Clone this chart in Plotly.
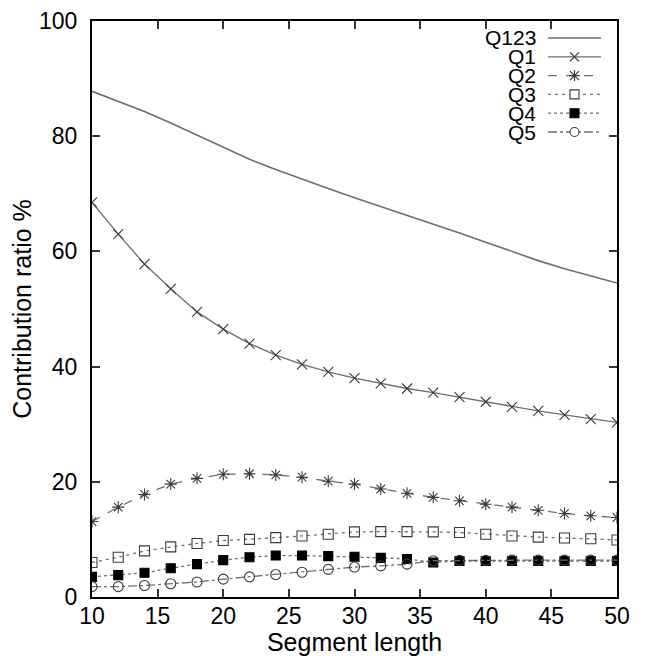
import plotly.graph_objects as go

# segment lengths
seg_len = [10, 12, 14, 16, 18, 20, 22, 24, 26, 28, 30,
           32, 34, 36, 38, 40, 42, 44, 46, 48, 50]

q123 = [87.8, 86.1, 84.3, 82.3, 80.2, 78.1, 76.0, 74.2, 72.5, 70.9, 69.3,
        67.8, 66.2, 64.7, 63.2, 61.6, 60.0, 58.4, 57.0, 55.7, 54.5]
q1 = [68.5, 63.0, 57.8, 53.5, 49.5, 46.5, 44.0, 42.0, 40.4, 39.1, 38.0,
      37.1, 36.2, 35.5, 34.7, 33.9, 33.0, 32.3, 31.6, 30.9, 30.3]
q2 = [13.1, 15.6, 17.8, 19.6, 20.6, 21.3, 21.4, 21.2, 20.8, 20.1, 19.6,
      18.75, 18.0, 17.3, 16.7, 16.1, 15.6, 15.05, 14.5, 14.1, 13.8]
q3 = [6.0, 6.9, 8.0, 8.7, 9.3, 9.8, 10.0, 10.3, 10.6, 10.9, 11.3,
      11.35, 11.35, 11.3, 11.2, 10.9, 10.6, 10.4, 10.25, 10.1, 9.9]
q4 = [3.5, 3.8, 4.2, 5.0, 5.7, 6.4, 6.9, 7.2, 7.2, 7.1, 7.0,
      6.8, 6.6, 6.0, 6.25, 6.25, 6.25, 6.25, 6.25, 6.25, 6.25]
q5 = [1.8, 1.8, 2.0, 2.3, 2.6, 3.1, 3.5, 3.9, 4.3, 4.8, 5.2,
      5.4, 5.7, 6.3, 6.35, 6.35, 6.4, 6.4, 6.4, 6.4, 6.4]

line_col = '#6e6e6e'
mk_col = '#3a3a3a'
FONT = 'Liberation Sans'

series = [
    ('Q123', q123, 'solid', None),
    ('Q1', q1, 'solid', 'x-thin-open'),
    ('Q2', q2, 'dash', 'asterisk-open'),
    ('Q3', q3, '3px,4px', 'square-open'),
    ('Q4', q4, 'dot', 'square'),
    ('Q5', q5, 'dashdot', 'circle-open'),
]

fig = go.Figure()
for name, vals, dash, sym in series:
    if sym is None:
        fig.add_trace(go.Scatter(x=seg_len, y=vals, name=name, mode='lines',
                                 line=dict(color=line_col, width=1.6, dash=dash)))
    else:
        filled = sym == 'square'
        fig.add_trace(go.Scatter(
            x=seg_len, y=vals, name=name, mode='lines+markers',
            line=dict(color=line_col, width=1.3, dash=dash),
            marker=dict(symbol=sym, size=9 if filled else 10,
                        color='black' if filled else mk_col,
                        line=dict(color='black' if filled else mk_col, width=1.1))))

# page body has an 8px margin, so the figure is a bit smaller than the window
OFF = 8
W, H = 652 - 2 * OFF, 664 - 2 * OFF
L, R, T, B = 92 - OFF, 617 - OFF, 21 - OFF, 597 - OFF

# gnuplot style key: label on the left, sample on the right (window px -> paper)
def px(x):
    return (x - OFF - L) / (R - L)
def py(y):
    return (B - (y - OFF)) / (B - T)

shapes = []
annots = []
for i, (name, vals, dash, sym) in enumerate(series):
    yy = 38 + 18.8 * i
    annots.append(dict(x=px(537), y=py(yy), xref='paper', yref='paper',
                       text=name, showarrow=False, xanchor='right', yanchor='middle',
                       borderpad=0,
                       font=dict(family=FONT, size=21, color='black')))
    shapes.append(dict(type='line', xref='paper', yref='paper',
                       x0=px(548), x1=px(601), y0=py(yy), y1=py(yy),
                       line=dict(color=line_col, width=1.6 if sym is None else 1.3,
                                 dash=dash)))
    cx, s = 574.5, 4.5
    g = dict(xref='paper', yref='paper')
    if sym in ('x-thin-open', 'asterisk-open'):
        shapes.append(dict(type='line', x0=px(cx - s), x1=px(cx + s), y0=py(yy - s), y1=py(yy + s),
                           line=dict(color=mk_col, width=1.2), **g))
        shapes.append(dict(type='line', x0=px(cx - s), x1=px(cx + s), y0=py(yy + s), y1=py(yy - s),
                           line=dict(color=mk_col, width=1.2), **g))
        if sym == 'asterisk-open':
            shapes.append(dict(type='line', x0=px(cx - s - 1), x1=px(cx + s + 1), y0=py(yy), y1=py(yy),
                               line=dict(color=mk_col, width=1.2), **g))
            shapes.append(dict(type='line', x0=px(cx), x1=px(cx), y0=py(yy - s - 1), y1=py(yy + s + 1),
                               line=dict(color=mk_col, width=1.2), **g))
    elif sym in ('square-open', 'square'):
        shapes.append(dict(type='rect', x0=px(cx - s), x1=px(cx + s), y0=py(yy - s), y1=py(yy + s),
                           line=dict(color='black' if sym == 'square' else mk_col, width=1.1),
                           fillcolor='black' if sym == 'square' else 'white', **g))
    elif sym == 'circle-open':
        shapes.append(dict(type='circle', x0=px(cx - s), x1=px(cx + s), y0=py(yy - s), y1=py(yy + s),
                           line=dict(color=mk_col, width=1.1), fillcolor='white', **g))

axis_common = dict(
    showline=True, linecolor='black', linewidth=2, mirror='ticks',
    ticks='inside', ticklen=8, tickwidth=1.5, tickcolor='#333',
    showgrid=False, zeroline=False, automargin=False,
    tickfont=dict(family=FONT, size=23, color='black'),
)

fig.update_layout(
    width=W, height=H,
    margin=dict(l=L, r=W - R, t=T, b=H - B),
    paper_bgcolor='white', plot_bgcolor='white',
    font=dict(family=FONT, color='black'),
    xaxis=dict(range=[10, 50], tickvals=[10, 15, 20, 25, 30, 35, 40, 45, 50],
               ticklabelstandoff=-3,
               title=dict(text='Segment length', font=dict(size=25), standoff=9),
               **axis_common),
    yaxis=dict(range=[0, 100], tickvals=[0, 20, 40, 60, 80, 100],
               ticklabelstandoff=8,
               title=dict(text='Contribution ratio %', font=dict(size=25), standoff=0),
               **axis_common),
    showlegend=False,
    shapes=shapes,
    annotations=annots,
)

fig.write_html("out.html")
